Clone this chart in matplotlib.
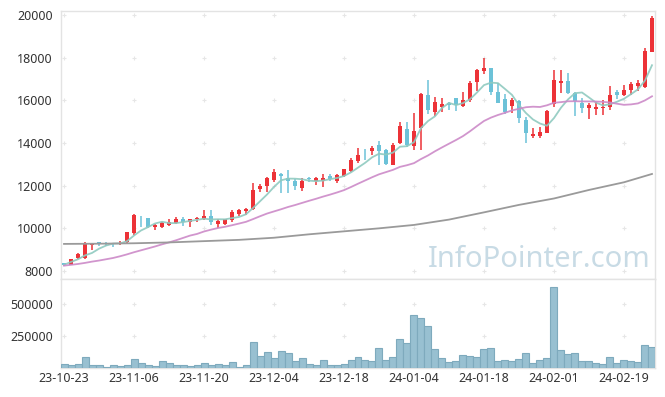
import numpy as np
import pandas as pd
import matplotlib
matplotlib.use("Agg")
import matplotlib.pyplot as plt

# daily candles, index = trading day
opens = [8360, 8290, 8610, 8620, 9240, 9360, 9310, 9310, 9260, 9380,
         9800, 10500, 10480, 10060, 10080, 10160, 10250, 10440, 10310, 10420,
         10450, 10580, 10200, 10200, 10400, 10680, 10810, 10920, 11840, 11980,
         12270, 12550, 12370, 12220, 11880, 12360, 12230, 12200, 12450, 12240,
         12450, 12700, 13170, 13460, 13640, 13910, 13670, 12980, 14000, 14650,
         13860, 14690, 16250, 15470, 15700, 15890, 16090, 15750, 16020, 16870,
         17390, 17500, 16380, 16050, 15750, 15970, 15100, 14350, 14340, 14480,
         15820, 16830, 16900, 16330, 15890, 15660, 15610, 15640, 15700, 16410,
         16250, 16480, 16680, 16650, 18280]
highs = [8380, 8580, 8850, 9380, 9330, 9370, 9340, 9330, 9400, 9850,
         10650, 10580, 10490, 10200, 10300, 10440, 10520, 10520, 10460, 10530,
         10860, 10860, 10440, 10440, 10860, 10920, 10950, 12110, 12080, 12400,
         12770, 12600, 12730, 12300, 12370, 12420, 12420, 12560, 12560, 12560,
         12800, 13300, 13750, 13700, 13870, 14090, 13700, 14000, 15000, 15000,
         15390, 16330, 16950, 16140, 16100, 15920, 16100, 16380, 16920, 17450,
         18000, 17520, 16830, 16300, 16100, 16030, 15200, 14700, 14770, 15550,
         17420, 17420, 17300, 16410, 16090, 15860, 15940, 16020, 16670, 16480,
         16720, 16880, 16950, 18440, 19950]
lows = [8240, 8270, 8560, 8580, 8980, 9180, 9170, 9110, 9230, 9300,
        9700, 10080, 10000, 9920, 10020, 10090, 10200, 10100, 10080, 10320,
        10400, 10160, 10000, 10180, 10300, 10570, 10620, 10850, 11720, 11720,
        12150, 11640, 11670, 11800, 11760, 12150, 12010, 11950, 12200, 12120,
        12400, 12650, 13050, 13200, 13450, 12970, 12970, 12950, 13950, 13830,
        13670, 13670, 15360, 15270, 15470, 15560, 15500, 15700, 15940, 16450,
        17220, 16250, 15860, 15380, 15390, 14950, 14000, 14220, 14250, 14450,
        15700, 16330, 16300, 15270, 15400, 15110, 15310, 15310, 15550, 16050,
        16200, 16250, 16440, 16600, 18250]
closes = [8290, 8560, 8800, 9280, 9300, 9290, 9290, 9260, 9320, 9830,
          10620, 10470, 10050, 10170, 10230, 10320, 10450, 10300, 10440, 10480,
          10590, 10280, 10340, 10420, 10770, 10860, 10910, 11800, 12000, 12360,
          12640, 12460, 12200, 11980, 12230, 12310, 12340, 12340, 12310, 12500,
          12780, 13200, 13440, 13420, 13790, 13640, 13000, 13910, 14800, 13910,
          14580, 16300, 15560, 15920, 15840, 15790, 15790, 16020, 16830, 17420,
          17520, 16370, 15900, 15470, 16020, 15150, 14480, 14400, 14520, 15500,
          16950, 16910, 16340, 15990, 15660, 15780, 15700, 15690, 16250, 16260,
          16480, 16770, 16830, 18310, 19850]
volumes = [33000, 25000, 33000, 87000, 25000, 25000, 4000, 22000, 12000, 22000,
           74000, 41000, 22000, 12000, 56000, 41000, 25000, 25000, 14000, 25000,
           41000, 25000, 33000, 25000, 48000, 10000, 20000, 203000, 95000, 126000,
           80000, 134000, 118000, 56000, 80000, 33000, 25000, 64000, 25000, 25000,
           33000, 64000, 87000, 64000, 56000, 157000, 64000, 87000, 227000, 196000,
           420000, 397000, 327000, 149000, 80000, 48000, 56000, 103000, 95000, 87000,
           149000, 157000, 56000, 64000, 56000, 72000, 118000, 41000, 64000, 80000,
           637000, 141000, 110000, 118000, 56000, 56000, 41000, 33000, 87000, 41000,
           64000, 56000, 48000, 180000, 165000]

# 20-day average before a full window is on screen
ma20_head = [8250, 8290, 8330, 8380, 8440, 8490, 8550, 8610, 8690, 8780,
             8880, 8970, 9060, 9150, 9250, 9340, 9440, 9550, 9660]
# long average (gray line), read every 5 days
ma_long_idx = [0, 5, 10, 15, 20, 25, 30, 35, 40, 45, 50, 55, 60, 65, 70, 75, 80, 84]
ma_long = [9270, 9280, 9300, 9340, 9400, 9460, 9560, 9720, 9860, 10000,
           10160, 10410, 10750, 11100, 11400, 11800, 12160, 12550]

tick_pos = [0, 10, 20, 30, 40, 50, 60, 70, 80]
tick_labels = ['23-10-23', '23-11-06', '23-11-20', '23-12-04', '23-12-18',
               '24-01-04', '24-01-18', '24-02-01', '24-02-19']

plt.rcParams['font.family'] = ['Noto Sans', 'DejaVu Sans']

o = np.array(opens); h = np.array(highs); l = np.array(lows); c = np.array(closes)
x = np.arange(len(c))
up = c >= o
red = '#ec3237'
blue = '#6cc2d8'
cols = np.where(up, red, blue)

ma5 = pd.Series(c).rolling(5, min_periods=1).mean().values
ma20 = pd.Series(c).rolling(20).mean().values
ma20[:len(ma20_head)] = ma20_head

fig = plt.figure(figsize=(6.65, 3.97), dpi=100)
ax = fig.add_axes([61/665, 1-279/397, 594/665, 268/397])
axv = fig.add_axes([61/665, 1-368/397, 594/665, 89/397], sharex=ax)

# candles
ax.vlines(x, l, h, colors=cols, linewidth=1.1, zorder=3)
body = np.maximum(np.abs(c - o), 25)
ax.bar(x, body, bottom=np.minimum(o, c), width=0.7, color=cols, zorder=4)

ax.plot(x, ma5, color='#8fcac0', lw=1.3, alpha=0.9, zorder=5)
ax.plot(x, ma20, color='#cc8ac8', lw=1.3, alpha=0.9, zorder=5)
ax.plot(ma_long_idx, ma_long, color='#9a9a9a', lw=1.3, zorder=5)

ax.set_xlim(-0.43, 84.43)
ax.set_ylim(7625, 20190)
ax.set_yticks(range(8000, 20001, 2000))

axv.bar(x, volumes, width=1.0, color='#98c0d1', edgecolor='#7eaabd', linewidth=0.8, zorder=3)
axv.set_ylim(0, 700000)
axv.set_yticks([250000, 500000])
axv.set_xticks(tick_pos)
axv.set_xticklabels(tick_labels)

# cross-shaped grid marks
gx, gy = np.meshgrid(tick_pos, range(8000, 20001, 2000))
ax.plot(gx.ravel(), gy.ravel(), '+', color='#e6e6e6', ms=3.5, mew=0.8, zorder=1)
gx, gy = np.meshgrid(tick_pos, [250000, 500000])
axv.plot(gx.ravel(), gy.ravel(), '+', color='#e6e6e6', ms=3.5, mew=0.8, zorder=1)

for a in (ax, axv):
    for s in a.spines.values():
        s.set_color('#e3e3e3')
        s.set_linewidth(1)
    a.tick_params(length=0, labelsize=9, colors='#333333')
    a.tick_params(axis='y', pad=6)
    a.tick_params(axis='x', pad=3)
ax.tick_params(axis='x', labelbottom=False)

fig.text(539/665, 1-267/397, 'InfoPointer.com', fontsize=21, color='#c8dbe5',
         ha='center', va='baseline', zorder=0)

fig.savefig('out.png', dpi=100)
